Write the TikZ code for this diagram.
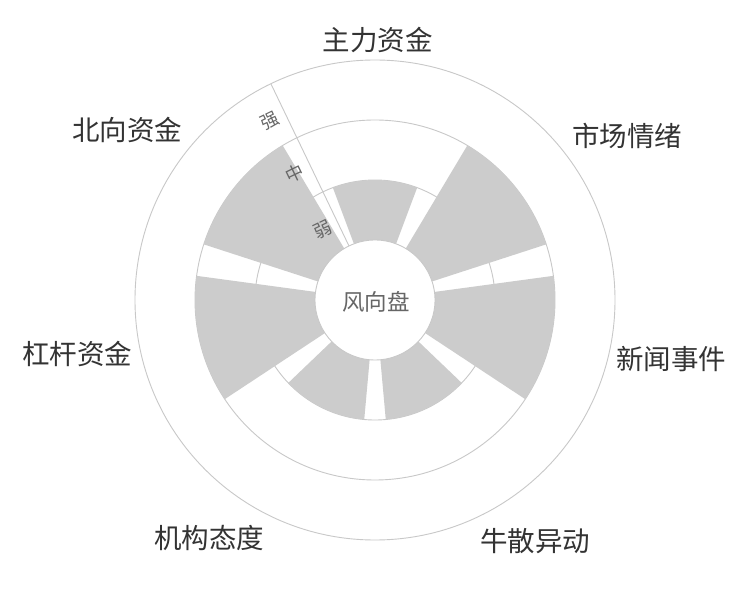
\documentclass[tikz,border=0pt]{standalone}
\usepackage{fontspec}
\setmainfont{Noto Sans CJK SC}
\definecolor{wpbar}{RGB}{204,204,204}
\definecolor{wpline}{RGB}{200,200,200}
\definecolor{wptext}{RGB}{51,51,51}
\definecolor{wpsoft}{RGB}{102,102,102}

\begin{document}
\begin{tikzpicture}[x=1pt,y=1pt,
  grid/.style={wpline,line width=0.9pt},
  cat/.style={text=wptext,font=\fontsize{27.5}{30}\selectfont,inner sep=0pt},
  tick/.style={text=wpsoft,font=\fontsize{18}{20}\selectfont,rotate=25.71,inner sep=0pt}]
\useasboundingbox[fill=white] (0,0) rectangle (750,600);

\begin{scope}[shift={(375,300)}]
% Rings
\draw[grid] (0,0) circle[radius=120];
\draw[grid] (0,0) circle[radius=180];
\draw[grid] (0,0) circle[radius=240];

% Bars (weak = 120, mid = 180)
\foreach \i/\r in {0/120,1/180,2/180,3/120,4/120,5/180,6/180}{
  \pgfmathsetmacro\lo{90-360/7*\i-20.57}
  \pgfmathsetmacro\hi{90-360/7*\i+20.57}
  \fill[wpbar] (\lo:60) arc[start angle=\lo,end angle=\hi,radius=60]
    -- (\hi:\r) arc[start angle=\hi,end angle=\lo,radius=\r] -- cycle;
}

% Hub
\draw[grid,fill=white] (0,0) circle[radius=60];
\node[text=wpsoft,font=\fontsize{22.5}{24}\selectfont] (hub) at (1,-1.7) {风向盘};
\end{scope}

% Radius axis
\begin{scope}[shift={(375,300)},rotate=25.71]
\draw[grid] (0,60) -- (0,240);
\node[tick] (ruo) at (-17,86) {弱};
\node[tick] (zhong) at (-18,149) {中};
\node[tick] (qiang) at (-17,207) {强};
\end{scope}

% Categories
\node[cat] (zhuli) at (377.5,560) {主力资金};
\node[cat] (qingxu) at (627,464) {市场情绪};
\node[cat] (xinwen) at (671,241) {新闻事件};
\node[cat] (niusan) at (535,59) {牛散异动};
\node[cat] (jigou) at (209,62) {机构态度};
\node[cat] (ganggan) at (77,246) {杠杆资金};
\node[cat] (beixiang) at (127,470) {北向资金};
\end{tikzpicture}
\end{document}
